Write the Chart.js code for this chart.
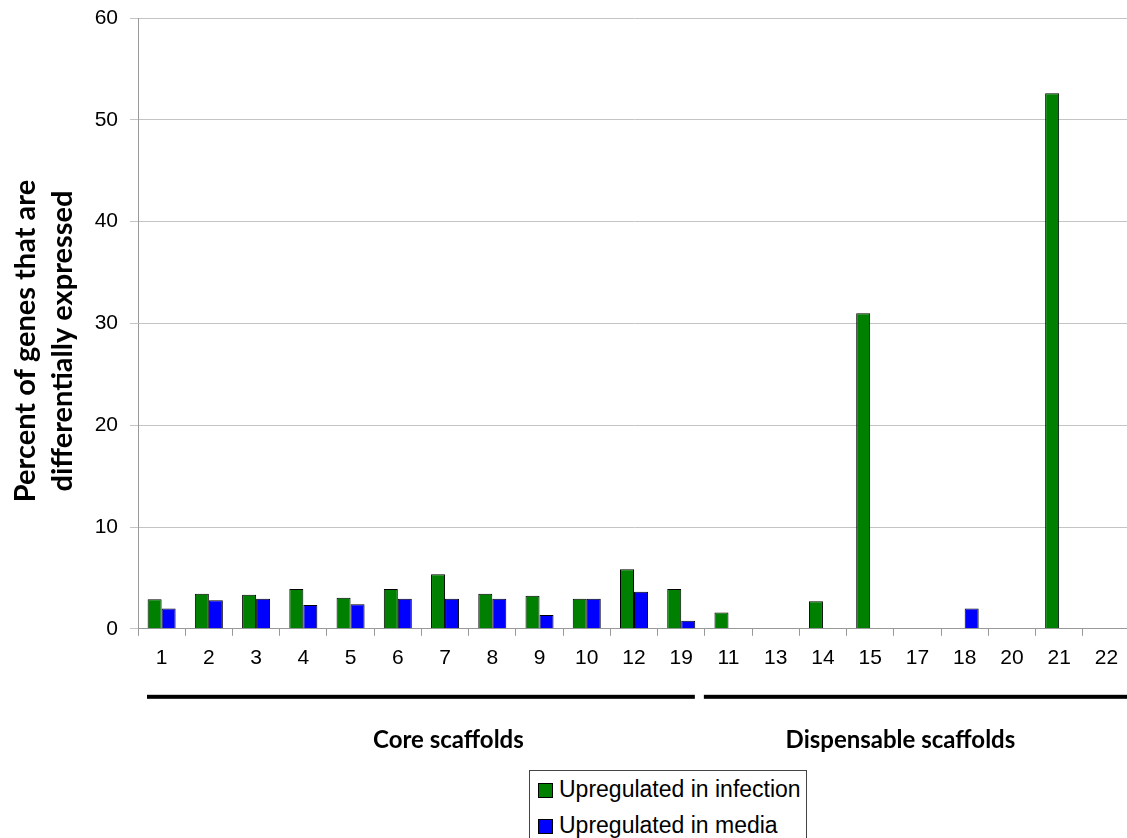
<!DOCTYPE html>
<html lang="en">
<head>
    <meta charset="UTF-8">
    <title>Differentially expressed genes per scaffold</title>
    <script src="https://cdn.jsdelivr.net/npm/chart.js"></script>
    <style>
        body { margin: 0; background: #fff; overflow: hidden; }
        .caixa { position: relative; width: 1131px; height: 838px; }
        #legenda {
            position: absolute; left: 529px; top: 770px; width: 276px; height: 90px;
            border: 1px solid #444; background: #fff;
            font-family: "Liberation Sans", Arial, sans-serif; font-size: 23px; color: #000;
        }
        .item { position: absolute; left: 8px; height: 36px; line-height: 36px; white-space: nowrap; }
        .quadrado { display: inline-block; width: 13px; height: 13px; border: 1px solid #000; margin-right: 6px; vertical-align: -1px; }
    </style>
</head>
<body>
<div class="caixa">
    <canvas id="grafico" width="1131" height="838"></canvas>
    <div id="legenda"></div>
</div>

<script>
// valores
const categorias = ['1', '2', '3', '4', '5', '6', '7', '8', '9', '10', '12', '19', '11', '13', '14', '15', '17', '18', '20', '21', '22'];
const upInfeccao = [2.9, 3.45, 3.35, 3.9, 3.05, 3.9, 5.35, 3.45, 3.25, 2.95, 5.85, 3.9, 1.6, 0, 2.7, 31.0, 0, 0, 0, 52.6, 0];
const upMeio = [2.0, 2.8, 2.95, 2.35, 2.4, 2.95, 2.95, 2.95, 1.35, 2.95, 3.65, 0.8, 0, 0, 0, 0, 0, 2.0, 0, 0, 0];
const nomesSeries = ['Upregulated in infection', 'Upregulated in media'];
const coresSeries = ['#008000', '#0000ff'];
const ticksY = [0, 10, 20, 30, 40, 50, 60];

// grupos de scaffolds (indice da primeira e da ultima categoria)
const nomesGrupos = ['Core scaffolds', 'Dispensable scaffolds'];
const inicioGrupo = [0, 12];
const fimGrupo = [11, 20];

// desenha as barras pretas e os nomes dos grupos embaixo do eixo x
const pluginGrupos = {
    id: 'grupos',
    afterDraw(chart) {
        const ctx = chart.ctx;
        const x = chart.scales.x;
        const larg = x.getPixelForValue(1) - x.getPixelForValue(0);
        const yLinha = chart.chartArea.bottom + 68;
        const yTexto = chart.chartArea.bottom + 111;
        const ajusteTexto = [27, -17];

        ctx.save();
        for (let i = 0; i < nomesGrupos.length; i++) {
            let x1 = x.getPixelForValue(inicioGrupo[i]) - larg / 2;
            let x2 = x.getPixelForValue(fimGrupo[i]) + larg / 2;
            if (i == 0) { x1 += 9; x2 -= 10; } else { x1 -= 1; x2 = chart.width; }

            ctx.fillStyle = '#000';
            ctx.fillRect(x1, yLinha - 2, x2 - x1, 4);

            ctx.font = 'bold 24px Lato, "Open Sans", sans-serif';
            ctx.textAlign = 'center';
            ctx.textBaseline = 'middle';
            ctx.fillText(nomesGrupos[i], (x.getPixelForValue(inicioGrupo[i]) + x.getPixelForValue(fimGrupo[i])) / 2 + ajusteTexto[i], yTexto);
        }
        ctx.restore();
    }
};

const dados = {
    labels: categorias,
    datasets: [
        { label: nomesSeries[0], data: upInfeccao, backgroundColor: coresSeries[0], borderColor: '#000', borderWidth: 1 },
        { label: nomesSeries[1], data: upMeio, backgroundColor: coresSeries[1], borderColor: '#000', borderWidth: 1 }
    ]
};

const config = {
    type: 'bar',
    data: dados,
    options: {
        responsive: false,
        animation: false,
        layout: { padding: { top: 18, right: 1, bottom: 157, left: 0 } },
        datasets: { bar: { categoryPercentage: 0.593, barPercentage: 1.0 } },
        plugins: {
            legend: { display: false },
            tooltip: { enabled: false }
        },
        scales: {
            x: {
                grid: { display: true, drawOnChartArea: false, offset: true, tickLength: 7, color: '#999' },
                border: { color: '#999' },
                ticks: { color: '#000', padding: 10, font: { family: '"Liberation Sans", Arial, sans-serif', size: 21 } }
            },
            y: {
                min: 0,
                max: 60,
                afterBuildTicks(scale) { scale.ticks = ticksY.map(v => ({ value: v })); },
                afterFit(scale) {
                    scale.width = 138;
                    scale.paddingTop = 0;
                    scale.paddingBottom = 0;
                },
                grid: { color: '#c4c4c4', tickLength: 8 },
                border: { color: '#999' },
                ticks: { color: '#000', padding: 12, font: { family: '"Liberation Sans", Arial, sans-serif', size: 21 } },
                title: {
                    display: true,
                    // espacos no fim empurram o titulo um pouco para baixo, como no original
                    text: ['Percent of genes that are     ', 'differentially expressed     '],
                    color: '#000',
                    padding: { top: 7, bottom: 0 },
                    font: { family: 'Lato, "Open Sans", sans-serif', size: 29, weight: 'bold', lineHeight: 1.27 }
                }
            }
        }
    },
    plugins: [pluginGrupos]
};

const meuGrafico = new Chart(document.getElementById('grafico'), config);

// legenda em html, feita a partir dos datasets
const legenda = document.getElementById('legenda');
meuGrafico.data.datasets.forEach((ds, i) => {
    legenda.innerHTML += `<div class="item" style="top:${i * 36}px"><span class="quadrado" style="background:${ds.backgroundColor}"></span>${ds.label}</div>`;
});
</script>
</body>
</html>
